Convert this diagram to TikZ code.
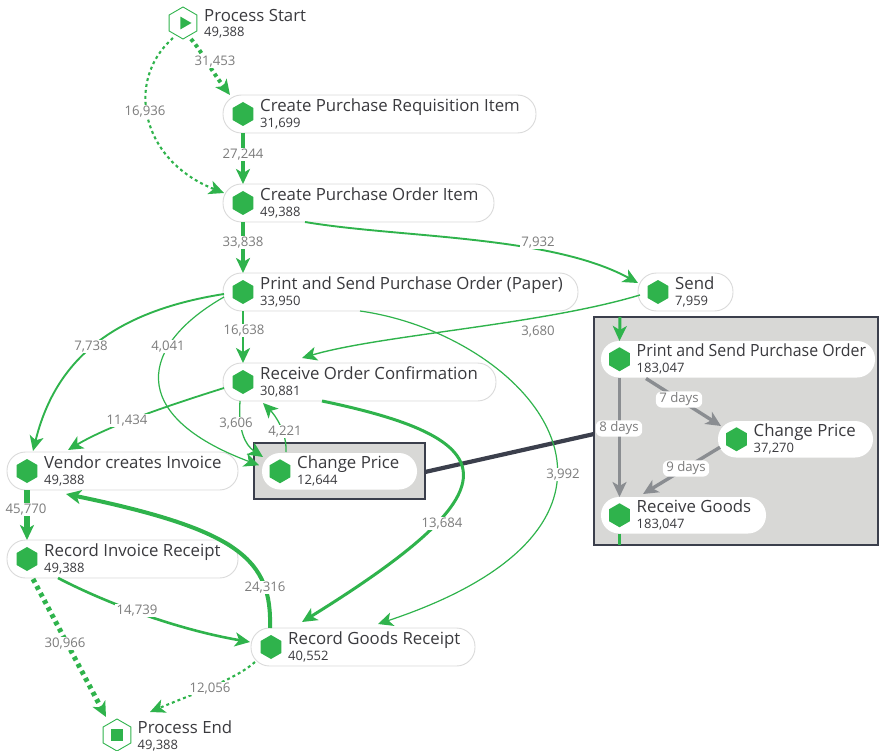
\documentclass[tikz,border=0pt]{standalone}
\usepackage{graphicx}
\usepackage{fontspec}
\setmainfont{Open Sans}
\usetikzlibrary{arrows.meta,calc,shapes.geometric}
\definecolor{flowgreen}{HTML}{2FB34C}
\definecolor{pillborder}{HTML}{DADADA}
\definecolor{inkdark}{HTML}{3A3A3E}
\definecolor{labelgray}{HTML}{7C7C7C}
\definecolor{panelgray}{HTML}{D8D8D6}
\definecolor{panelline}{HTML}{3B3F4C}
\definecolor{timegray}{HTML}{8A8D91}
\tikzset{
  pill/.style={draw=pillborder,line width=0.9pt,fill=white,rounded corners=18.5pt,minimum height=38pt,inner sep=0pt,outer sep=0pt,anchor=north west},
  whitepill/.style={fill=white,rounded corners=18pt,minimum height=36.5pt,inner sep=0pt,outer sep=0pt,anchor=north west},
  icon/.style={regular polygon,regular polygon sides=6,regular polygon rotate=30,fill=flowgreen,minimum size=24pt,inner sep=0pt,outer sep=0pt},
  hexline/.style={regular polygon,regular polygon sides=6,regular polygon rotate=30,draw=flowgreen,line width=0.9pt,fill=white,minimum size=32pt,inner sep=0pt,outer sep=0pt},
  titletext/.style={anchor=base west,inner sep=0pt,text=inkdark,font=\fontsize{16.8}{18}\selectfont},
  counttext/.style={anchor=base west,inner sep=0pt,text=inkdark,font=\fontsize{13}{14}\selectfont},
  elabel/.style={fill=white,inner sep=1.2pt,yshift=-1.5pt,text=labelgray,font=\fontsize{13.2}{14}\selectfont},
  tlabel/.style={fill=white,rounded corners=6pt,inner xsep=3.5pt,inner ysep=1.5pt,yshift=-1.5pt,text=labelgray,font=\fontsize{13.2}{14}\selectfont},
  tip/.style={-{Stealth[length=15pt,width=14pt,inset=4pt]}},
  flow/.style={tip,draw=flowgreen},
  dots/.style={dash pattern=on #1 off #1},
  timeflow/.style={-{Stealth[length=15pt,width=14pt,inset=4pt]},draw=timegray,line width=3.4pt},
}
\newcommand{\flownode}[6]{%
  \node[pill,minimum width=#4pt] (p#1) at (#2,#3) {};
  \node[icon] (i#1) at ($(p#1.west)+(20,0)$) {};
  \node[titletext] (t#1) at ($(p#1.west)+(37,-2.5)$) {#5};
  \node[counttext] (c#1) at ($(p#1.west)+(37,13.5)$) {#6};
}
\newcommand{\insetnode}[6]{%
  \node[whitepill,minimum width=#4pt] (p#1) at (#2,#3) {};
  \node[icon] (i#1) at ($(p#1.west)+(18.5,0)$) {};
  \node[titletext] (t#1) at ($(p#1.west)+(35.5,-2.5)$) {#5};
  \node[counttext] (c#1) at ($(p#1.west)+(35.5,13)$) {#6};
}
\begin{document}
\begin{tikzpicture}[x=1pt,y=-1pt]
\useasboundingbox (0,0) rectangle (880,751);
% highlighted box
\node[draw=panelline,line width=1.6pt,fill=panelgray,minimum width=171pt,minimum height=56pt,inner sep=0pt,outer sep=0pt,anchor=north west] (boxCP) at (254,443) {};
\node[draw=panelline,line width=1.6pt,fill=panelgray,minimum width=284pt,minimum height=228pt,inner sep=0pt,outer sep=0pt,anchor=north west] (panel) at (594,317) {};
\draw[draw=panelline,line width=4.2pt] ($(boxCP.east)+(0,1)$) coordinate (lnkA) -- ($(panel.west)+(0,3)$) coordinate (lnkB);
% nodes
\node[hexline] (hStart) at (183,23) {};
\node[draw=none,fill=flowgreen,regular polygon,regular polygon sides=3,regular polygon rotate=-90,minimum size=15pt,inner sep=0pt] (playS) at (184,23) {};
\node[titletext] (tStart) at (204,21.5) {Process Start};
\node[counttext] (cStart) at (204,37) {49,388};
\flownode{R}{223}{95}{313}{Create Purchase Requisition Item}{31,699}
\flownode{O}{223}{184}{271}{Create Purchase Order Item}{49,388}
\flownode{P}{223}{273}{355}{Print and Send Purchase Order (Paper)}{33,950}
\flownode{S}{638}{273}{95}{Send}{7,959}
\flownode{C}{223}{363}{273}{Receive Order Confirmation}{30,881}
\flownode{V}{7}{452}{231}{Vendor creates Invoice}{49,388}
\flownode{I}{7}{540}{231}{Record Invoice Receipt}{49,388}
\flownode{G}{251}{628}{224}{Record Goods Receipt}{40,552}
\node[hexline] (hEnd) at (117,735) {};
\node[draw=none,fill=flowgreen,minimum size=12pt,inner sep=0pt] (stopE) at (117,735) {};
\node[titletext] (tEnd) at (137.5,733) {Process End};
\node[counttext] (cEnd) at (137.5,749) {49,388};
% change price (highlighted)
\node[whitepill,minimum width=155pt] (pH) at (262,453) {};
\node[icon] (iH) at ($(pH.west)+(18,0)$) {};
\node[titletext] (tH) at ($(pH.west)+(35,-2.5)$) {Change Price};
\node[counttext] (cH) at ($(pH.west)+(35,13)$) {12,644};
% inset nodes
\insetnode{A}{601}{341}{274}{\scalebox{0.946}[1]{Print and Send Purchase Order}}{183,047}
\insetnode{D}{718}{421}{155}{Change Price}{37,270}
\insetnode{B}{601}{497}{165}{Receive Goods}{183,047}
% connectors
\draw[flow,line width=4pt,dots=3.5pt] ($(hStart.center)+(8,16)$) .. controls +(12,14) and +(-24,-32) .. ($(pR.north west)+(7,0)$);
\draw[flow,line width=2.1pt,dots=3pt] ($(hStart.center)+(-10,15)$) .. controls (125,80) and (140,160) .. ($(pO.north west)+(1,9)$);
\draw[flow,line width=3.4pt] (pR.south -| iR) -- (pO.north -| iO);
\draw[flow,line width=3.6pt] (pO.south -| iO) -- (pP.north -| iP);
\draw[flow,line width=1.9pt] ($(pO.south west)+(82,0)$) .. controls (400,238) and (550,235) .. ($(pS.west)+(0,-9)$);
\draw[flow,line width=1.4pt] ($(pS.west)+(2,3)$) .. controls (540,325) and (380,335) .. ($(pC.north west)+(79,-5)$);
\draw[flow,line width=2.6pt] (pP.south -| iP) -- (pC.north -| iC);
\draw[flow,line width=1.9pt] ($(pP.west)+(1,2)$) .. controls (110,312) and (55,362) .. ($(pV.north west)+(26,-1)$);
\draw[flow,line width=1.2pt] ($(pP.west)+(1,5)$) .. controls (140,345) and (125,415) .. ($(pH.west)+(-3,-6)$);
\draw[flow,line width=1.2pt] ($(pP.south west)+(137,0)$) .. controls (530,335) and (690,520) .. ($(pG.north west)+(127,-4)$);
\draw[flow,line width=1.8pt] ($(pC.west)+(1,6)$) .. controls (170,405) and (110,425) .. ($(pV.north west)+(61,-2)$);
\draw[flow,line width=1.3pt] ($(pC.south west)+(17,0)$) .. controls (238,430) and (245,445) .. ($(pH.north west)+(1,4)$);
\draw[flow,line width=1.3pt] ($(pH.north west)+(24,-1)$) .. controls (287,432) and (275,415) .. ($(pC.south west)+(40,2)$);
\draw[flow,line width=3pt] ($(pC.south west)+(99,0)$) .. controls (510,440) and (515,490) .. ($(pG.north west)+(51,-6)$);
\draw[flow,line width=4pt] ($(pG.north west)+(19,0)$) .. controls (272,560) and (240,530) .. ($(pV.south west)+(59,4)$);
\draw[flow,line width=5.5pt] (pV.south -| iV) -- (pI.north -| iI);
\draw[flow,line width=5pt,dots=4pt] ($(pI.south west)+(26,1)$) -- ($(hEnd.center)+(-11,-18)$);
\draw[flow,line width=2.6pt] ($(pI.south west)+(51,0)$) .. controls (110,605) and (180,630) .. ($(pG.west)+(-1,-5)$);
\draw[flow,line width=2.1pt,dots=3pt] ($(pG.south west)+(4,-4)$) .. controls (235,680) and (190,695) .. ($(hEnd.center)+(33,-23)$);
% inset connectors
\draw[flow,line width=3pt] ($(panel.north west)+(26,0)$) -- (pA.north -| iA);
\draw[draw=flowgreen,line width=3pt] (pB.south -| iB) -- ($(panel.south west)+(25.5,0)$);
\draw[timeflow] (pA.south -| iA) -- (pB.north -| iB);
\draw[timeflow] ($(pA.south west)+(45,1)$) -- ($(pD.north west)+(3,5)$);
\draw[timeflow] ($(pD.west)+(2,8)$) -- ($(pB.north west)+(42,-3)$);
% edge labels
\node[elabel] (l1) at (215,60) {31,453};
\node[elabel] (l2) at (145,110) {16,936};
\node[elabel] (l3) at (243,153) {27,244};
\node[elabel] (l4) at (243,241) {33,838};
\node[elabel] (l5) at (538,241) {7,932};
\node[elabel] (l6) at (538,330) {3,680};
\node[elabel] (l7) at (244,329) {16,638};
\node[elabel] (l8) at (91,345) {7,738};
\node[elabel] (l9) at (168,345) {4,041};
\node[elabel] (l10) at (563,473) {3,992};
\node[elabel] (l11) at (127,419) {11,434};
\node[elabel] (l12) at (236,422) {3,606};
\node[elabel] (l13) at (285,430) {4,221};
\node[elabel] (l14) at (442,522) {13,684};
\node[elabel] (l15) at (265,586) {24,316};
\node[elabel] (l16) at (26,508) {45,770};
\node[elabel] (l17) at (65,642) {30,966};
\node[elabel] (l18) at (137,609) {14,739};
\node[elabel] (l19) at (210,687) {12,056};
\node[tlabel] (l20) at (619,427) {8 days};
\node[tlabel] (l21) at (679,398) {7 days};
\node[tlabel] (l22) at (686,467) {9 days};
\end{tikzpicture}
\end{document}
